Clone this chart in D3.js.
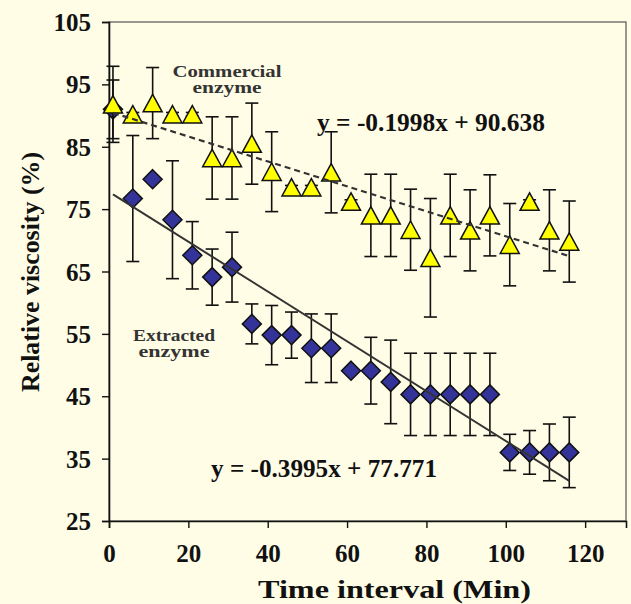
<!DOCTYPE html>
<html>
<head>
<meta charset="utf-8">
<script src="https://cdn.jsdelivr.net/npm/d3@7"></script>
<style>
  html, body { margin: 0; padding: 0; background: #fffde6; }
  svg { display: block; }
  text { font-family: "Liberation Serif", "Times New Roman", serif; font-weight: bold; fill: #111; }
</style>
</head>
<body>
<script>
const width = 631;
const height = 604;

// sampling times (min)
const times = [1, 6, 11, 16, 21, 26, 31, 36, 41, 46, 51, 56, 61, 66, 71, 76, 81, 86, 91, 96, 101, 106, 111, 116];

// commercial enzyme (triangles)
const commercial = [91.8, 90.2, 92.0, 90.2, 90.2, 83.2, 83.2, 85.5, 81.0, 78.5, 78.5, 80.9,
  76.2, 74.0, 74.0, 71.7, 67.2, 74.0, 71.6, 74.0, 69.3, 76.2, 71.6, 69.8];
const commercialErr = [6.1, 0.3, 5.7, 0.3, 0.3, 6.6, 6.6, 6.5, 6.4, 0.3, 0.3, 6.5,
  0.3, 6.6, 6.6, 6.5, 9.5, 6.6, 6.5, 6.5, 6.6, 0.3, 6.5, 6.5];

// extracted enzyme (diamonds)
const extracted = [91.0, 76.7, 79.8, 73.3, 67.6, 64.1, 65.7, 56.6, 54.8, 54.8, 52.7, 52.7,
  49.1, 49.1, 47.3, 45.3, 45.3, 45.3, 45.3, 45.3, 36.0, 36.0, 36.0, 36.0];
const extractedErr = [4.7, 10.1, 0.3, 9.45, 5.4, 4.5, 5.6, 3.2, 4.75, 3.7, 5.5, 5.5,
  0.3, 5.35, 6.7, 6.6, 6.6, 6.6, 6.6, 6.6, 2.9, 3.5, 4.55, 5.65];

// trendlines: [slope, intercept]
const commercialFit = [-0.1998, 90.638];
const extractedFit = [-0.3995, 77.771];

const xTicks = [0, 20, 40, 60, 80, 100, 120];
const yTicks = [25, 35, 45, 55, 65, 75, 85, 95, 105];

const margin = {left: 109, top: 22, right: 5, bottom: 83};
const plotW = width - margin.left - margin.right;
const plotH = height - margin.top - margin.bottom;

const svg = d3.select('body').append('svg')
  .attr('width', width)
  .attr('height', height);

svg.append('rect')
  .attr('width', width).attr('height', height)
  .attr('fill', '#fffde6');

const g = svg.append('g')
  .attr('transform', `translate(${margin.left},${margin.top})`);

const x = d3.scaleLinear().domain([0, 130.3]).range([0, plotW]);
const y = d3.scaleLinear().domain([25, 105]).range([plotH, 0]);

// plot frame (top/right)
g.append('rect')
  .attr('width', plotW).attr('height', plotH)
  .attr('fill', 'none')
  .attr('stroke', '#555')
  .attr('stroke-width', 1.2);

// axes
const yAxis = g.append('g')
  .call(d3.axisLeft(y).tickValues(yTicks).tickSize(7).tickPadding(11).tickFormat(d3.format('d')));
const xAxis = g.append('g')
  .attr('transform', `translate(0,${plotH})`)
  .call(d3.axisBottom(x).tickValues(xTicks).tickSize(7).tickPadding(16).tickFormat(d3.format('d')));

[yAxis, xAxis].forEach(a => {
  a.select('.domain').attr('stroke', '#111').attr('stroke-width', 1.6);
  a.selectAll('.tick line').attr('stroke', '#111').attr('stroke-width', 1.4);
  a.selectAll('.tick text')
    .attr('font-family', '"Liberation Serif", "Times New Roman", serif')
    .attr('font-weight', 'bold')
    .attr('font-size', 25)
    .attr('fill', '#111');
});
yAxis.selectAll('.tick text').attr('dy', '0.34em');

// axis titles
svg.append('text')
  .attr('x', 258).attr('y', 598)
  .attr('font-size', 25)
  .attr('textLength', 273).attr('lengthAdjust', 'spacingAndGlyphs')
  .text('Time interval (Min)');

svg.append('text')
  .attr('transform', 'translate(39,392) rotate(-90)')
  .attr('font-size', 25)
  .attr('textLength', 240).attr('lengthAdjust', 'spacingAndGlyphs')
  .text('Relative viscosity (%)');

function drawSeries(values, errs, shape, fill) {
  const s = g.append('g');
  const rows = times.map((t, i) => ({t, v: values[i], e: errs[i]}));
  const bars = s.selectAll('.err').data(rows).enter().append('g')
    .attr('stroke', '#111').attr('stroke-width', 1.6).attr('fill', 'none');
  bars.append('line')
    .attr('x1', d => x(d.t)).attr('x2', d => x(d.t))
    .attr('y1', d => y(d.v + d.e)).attr('y2', d => y(d.v - d.e));
  bars.append('line')
    .attr('x1', d => x(d.t) - 6.5).attr('x2', d => x(d.t) + 6.5)
    .attr('y1', d => y(d.v + d.e)).attr('y2', d => y(d.v + d.e));
  bars.append('line')
    .attr('x1', d => x(d.t) - 6.5).attr('x2', d => x(d.t) + 6.5)
    .attr('y1', d => y(d.v - d.e)).attr('y2', d => y(d.v - d.e));
  s.selectAll('.mk').data(rows).enter().append('path')
    .attr('d', shape)
    .attr('transform', d => `translate(${x(d.t)},${y(d.v)})`)
    .attr('fill', fill)
    .attr('stroke', '#111')
    .attr('stroke-width', 1.5);
}

drawSeries(extracted, extractedErr, 'M0,-9.5L9.5,0L0,9.5L-9.5,0Z', '#333399');
drawSeries(commercial, commercialErr, 'M0,-8.7L9.5,8.7L-9.5,8.7Z', '#ffff00');

// trendlines
function fitLine(fit) {
  const t0 = times[0], t1 = times[times.length - 1];
  return [[t0, fit[0] * t0 + fit[1]], [t1, fit[0] * t1 + fit[1]]];
}
const line = d3.line().x(d => x(d[0])).y(d => y(d[1]));

g.append('path')
  .attr('d', line(fitLine(commercialFit)))
  .attr('stroke', '#333').attr('stroke-width', 2.2)
  .attr('stroke-dasharray', '6,4')
  .attr('fill', 'none');

g.append('path')
  .attr('d', line(fitLine(extractedFit)))
  .attr('stroke', '#333').attr('stroke-width', 2)
  .attr('fill', 'none');

// equations
svg.append('text')
  .attr('x', 317).attr('y', 131)
  .attr('font-size', 25)
  .attr('textLength', 228).attr('lengthAdjust', 'spacingAndGlyphs')
  .text('y = -0.1998x + 90.638');

svg.append('text')
  .attr('x', 211).attr('y', 477)
  .attr('font-size', 25)
  .attr('textLength', 226).attr('lengthAdjust', 'spacingAndGlyphs')
  .text('y = -0.3995x + 77.771');

// series labels (one text per line)
function label(lines, cx, y0, widths) {
  lines.forEach((s, i) => {
    svg.append('text')
      .attr('x', cx - widths[i] / 2).attr('y', y0 + i * 16)
      .attr('font-size', 16)
      .attr('textLength', widths[i]).attr('lengthAdjust', 'spacingAndGlyphs')
      .style('fill', '#333')
      .text(s);
  });
}
label(['Commercial', 'enzyme'], 227, 77, [109, 69]);
label(['Extracted', 'enzyme'], 174, 341, [82, 71]);
</script>
</body>
</html>
